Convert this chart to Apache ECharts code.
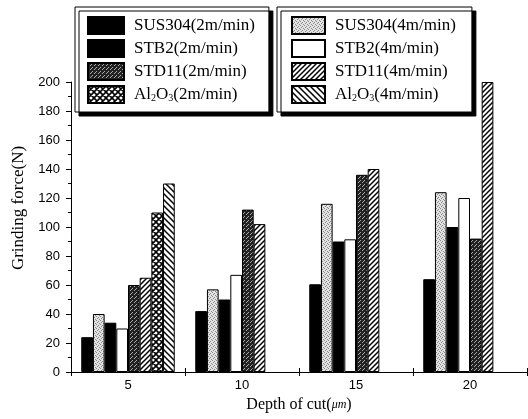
<!DOCTYPE html>
<html>
<head>
<meta charset="utf-8">
<script src="https://cdn.jsdelivr.net/npm/echarts@6/dist/echarts.min.js"></script>
<style>
  html, body { margin: 0; padding: 0; background: #fff; }
  #chart { width: 528px; height: 419px; }
</style>
</head>
<body>
<div id="chart"></div>
<script>
// Depth of cut categories and grinding force (N) per material / feed speed
const depths = ['5', '10', '15', '20'];
const sus304_2 = [24, 42, 60.5, 64];
const sus304_4 = [40, 57, 116, 124];
const stb2_2 = [34, 50, 90, 100];
const stb2_4 = [30, 67, 91.5, 120];
const std11_2 = [60, 112, 136, 92];
const std11_4 = [65, 102, 140, 200];
const al2o3_2 = [110, null, null, null];
const al2o3_4 = [130, null, null, null];

const yTicks = { min: 0, max: 200, interval: 20 };

// Fill textures for the bars
function tile(size, draw) {
  const c = document.createElement('canvas');
  c.width = c.height = size;
  const ctx = c.getContext('2d');
  draw(ctx, size);
  return { image: c, repeat: 'repeat' };
}
function stipple(bg, dot, spots) {
  return tile(4, (ctx) => {
    ctx.fillStyle = bg;
    ctx.fillRect(0, 0, 4, 4);
    ctx.fillStyle = dot;
    spots.forEach(([x, y]) => ctx.fillRect(x, y, 1, 1));
  });
}
function hatch(size, width, forward) {
  return tile(size, (ctx, s) => {
    ctx.fillStyle = '#fff';
    ctx.fillRect(0, 0, s, s);
    ctx.strokeStyle = '#000';
    ctx.lineWidth = width;
    ctx.beginPath();
    if (forward) {
      ctx.moveTo(-1, 1); ctx.lineTo(1, -1);
      ctx.moveTo(0, s); ctx.lineTo(s, 0);
      ctx.moveTo(s - 1, s + 1); ctx.lineTo(s + 1, s - 1);
    } else {
      ctx.moveTo(-1, s - 1); ctx.lineTo(1, s + 1);
      ctx.moveTo(0, 0); ctx.lineTo(s, s);
      ctx.moveTo(s - 1, -1); ctx.lineTo(s + 1, 1);
    }
    ctx.stroke();
  });
}
function crossHatch(size, width) {
  return tile(size, (ctx, s) => {
    ctx.fillStyle = '#fff';
    ctx.fillRect(0, 0, s, s);
    ctx.strokeStyle = '#000';
    ctx.lineWidth = width;
    ctx.beginPath();
    ctx.moveTo(0, 0); ctx.lineTo(s, s);
    ctx.moveTo(0, s); ctx.lineTo(s, 0);
    ctx.moveTo(-1, s - 1); ctx.lineTo(1, s + 1);
    ctx.moveTo(s - 1, -1); ctx.lineTo(s + 1, 1);
    ctx.moveTo(-1, 1); ctx.lineTo(1, -1);
    ctx.moveTo(s - 1, s + 1); ctx.lineTo(s + 1, s - 1);
    ctx.stroke();
  });
}

const fills = {
  solid: '#000',
  lightDots: stipple('#e2e2e2', '#8a8a8a', [[0, 0], [2, 1], [1, 2], [3, 3]]),
  white: '#fff',
  darkDots: stipple('#222', '#a8a8a8', [[0, 0], [2, 2], [3, 1]]),
  forward: hatch(5, 1.5, true),
  cross: crossHatch(6, 1.6),
  backward: hatch(6, 1.5, false)
};

const serif = 'Liberation Serif';
const sans = 'Liberation Sans';

function bar(name, data, fill) {
  return {
    name: name,
    type: 'bar',
    data: data,
    barGap: '0%',
    barCategoryGap: '18%',
    itemStyle: { color: fill, borderColor: '#000', borderWidth: 1 }
  };
}

const series = [
  bar('SUS304(2m/min)', sus304_2, fills.solid),
  bar('SUS304(4m/min)', sus304_4, fills.lightDots),
  bar('STB2(2m/min)', stb2_2, fills.solid),
  bar('STB2(4m/min)', stb2_4, fills.white),
  bar('STD11(2m/min)', std11_2, fills.darkDots),
  bar('STD11(4m/min)', std11_4, fills.forward),
  bar('Al2O3(2m/min)', al2o3_2, fills.cross),
  bar('Al2O3(4m/min)', al2o3_4, fills.backward)
];

const legendText = {
  fontFamily: serif,
  fontSize: 17,
  color: '#000',
  padding: [0, 0, 0, 5],
  rich: {
    t: { fontFamily: serif, fontSize: 17, color: '#000' },
    s: { fontFamily: serif, fontSize: 10, color: '#000', verticalAlign: 'bottom' }
  }
};
function legendLabel(name) {
  if (name.indexOf('Al2O3') === 0) {
    return '{t|Al}{s|2}{t|O}{s|3}{t|' + name.slice(5) + '}';
  }
  return name;
}
const legendBox = {
  orient: 'vertical',
  top: 7,
  itemHeight: 17,
  itemGap: 4,
  icon: 'rect',
  backgroundColor: '#fff',
  borderColor: '#000',
  borderWidth: 1,
  shadowColor: '#000',
  shadowBlur: 0,
  shadowOffsetX: 4,
  shadowOffsetY: 4,
  formatter: legendLabel,
  textStyle: legendText,
  selectedMode: false
};

const chart = echarts.init(document.getElementById('chart'), null, { renderer: 'canvas' });
chart.setOption({
  backgroundColor: '#fff',
  animation: false,
  legend: [
    Object.assign({}, legendBox, {
      left: 75,
      itemWidth: 36,
      padding: [9, 14, 8, 12],
      data: ['SUS304(2m/min)', 'STB2(2m/min)', 'STD11(2m/min)', 'Al2O3(2m/min)']
    }),
    Object.assign({}, legendBox, {
      left: 277,
      itemWidth: 33,
      padding: [9, 16, 8, 14],
      data: ['SUS304(4m/min)', 'STB2(4m/min)', 'STD11(4m/min)', 'Al2O3(4m/min)']
    })
  ],
  grid: { left: 71, right: 1, top: 82, bottom: 47, containLabel: false, outerBoundsMode: 'none' },
  xAxis: [
    {
      type: 'category',
      data: depths,
      position: 'bottom',
      name: 'Depth of cut({u|μm})',
      nameLocation: 'middle',
      nameGap: 25,
      nameTextStyle: {
        fontFamily: serif, fontSize: 16, color: '#000',
        rich: { u: { fontFamily: serif, fontSize: 12, fontStyle: 'italic', color: '#000' } }
      },
      axisLine: { lineStyle: { color: '#000', width: 1 } },
      axisTick: { show: true, length: 4, lineStyle: { color: '#000' } },
      axisLabel: { fontFamily: sans, fontSize: 13, color: '#000', margin: 7 },
      splitLine: { show: false }
    },
    {
      type: 'category',
      data: depths,
      position: 'bottom',
      axisLine: { show: false },
      axisTick: { show: true, inside: true, length: 4, lineStyle: { color: '#000' } },
      axisLabel: { show: false },
      splitLine: { show: false }
    }
  ],
  yAxis: {
    type: 'value',
    min: yTicks.min,
    max: yTicks.max,
    interval: yTicks.interval,
    name: 'Grinding force(N)',
    nameLocation: 'middle',
    nameGap: 44,
    nameTextStyle: { fontFamily: serif, fontSize: 17, color: '#000', padding: [0, 0, 0, 38] },
    axisLine: { show: true, lineStyle: { color: '#000', width: 1 } },
    axisTick: { show: true, length: 5, lineStyle: { color: '#000' } },
    minorTick: { show: true, splitNumber: 2, length: 3, lineStyle: { color: '#000' } },
    axisLabel: { fontFamily: sans, fontSize: 13, color: '#000', margin: 11 },
    splitLine: { show: false }
  },
  series: series
});
</script>
</body>
</html>
